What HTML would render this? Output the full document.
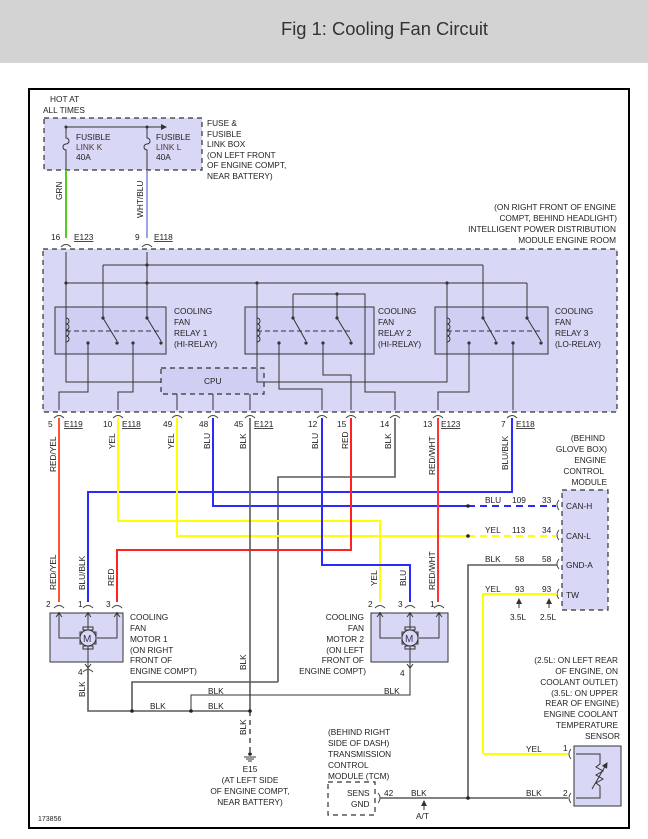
<!DOCTYPE html>
<html><head><meta charset="utf-8"><style>
html,body{margin:0;padding:0;background:#fff;}
svg{display:block;}
text{font-family:"Liberation Sans",Arial,sans-serif;font-size:8.3px;fill:#222;}
.t{font-size:18px;fill:#333;}
.w{fill:none;stroke-width:2;}
.g{stroke:#5a5a5a;fill:none;stroke-width:1.6;}
.k{stroke:#333;fill:none;stroke-width:1;}
.d{stroke:#333;stroke-width:1.2;stroke-dasharray:5,4;}
.c{stroke:#444;fill:none;stroke-width:1;}
</style></head><body>
<svg width="648" height="839" viewBox="0 0 648 839" xmlns="http://www.w3.org/2000/svg">
<defs>
<marker id="ar" markerWidth="6" markerHeight="6" refX="5" refY="3" orient="auto"><path d="M0,0 L6,3 L0,6 z" fill="#333"/></marker>
</defs>
<rect x="0" y="0" width="648" height="63" fill="#d3d3d3"/>
<text class="t" x="281" y="35" textLength="207" lengthAdjust="spacingAndGlyphs">Fig 1: Cooling Fan Circuit</text>
<rect x="29" y="89" width="600" height="739" fill="none" stroke="#000" stroke-width="2"/>

<!-- fuse box -->
<text x="50" y="102">HOT AT</text><text x="43" y="113">ALL TIMES</text>
<rect x="44" y="118" width="158" height="52" style="fill:#d8d8f6" class="d"/>
<line x1="66" y1="127" x2="166" y2="127" class="k" marker-end="url(#ar)"/>
<circle cx="66" cy="127" r="1.5" fill="#333"/><circle cx="147" cy="127" r="1.5" fill="#333"/>
<path d="M66,127 V138 a3,3 0 0 1 0,6 a3,3 0 0 0 0,6 V170" class="k"/>
<path d="M147,127 V138 a3,3 0 0 1 0,6 a3,3 0 0 0 0,6 V170" class="k"/>
<text x="76" y="140">FUSIBLE</text><text x="76" y="150" style="fill:#533">LINK K</text><text x="76" y="160">40A</text>
<text x="156" y="140">FUSIBLE</text><text x="156" y="150" style="fill:#533">LINK L</text><text x="156" y="160">40A</text>
<text x="207" y="126">FUSE &amp;</text><text x="207" y="137">FUSIBLE</text><text x="207" y="147">LINK BOX</text>
<text x="207" y="158">(ON LEFT FRONT</text><text x="207" y="168">OF ENGINE COMPT,</text><text x="207" y="179">NEAR BATTERY)</text>
<line x1="66" y1="170" x2="66" y2="238" stroke="#55cc22" stroke-width="2"/>
<line x1="147" y1="170" x2="147" y2="238" stroke="#8080e0" stroke-width="1.5"/>
<text transform="translate(62,200) rotate(-90)">GRN</text>
<text transform="translate(143,218) rotate(-90)">WHT/BLU</text>
<text x="51" y="240">16</text><text x="74" y="240" text-decoration="underline">E123</text>
<text x="135" y="240">9</text><text x="154" y="240" text-decoration="underline">E118</text>
<path d="M61,247 q5,-5 10,0 M142,247 q5,-5 10,0" class="c"/>

<!-- IPDM text -->
<g text-anchor="end"><text x="616" y="210">(ON RIGHT FRONT OF ENGINE</text><text x="617" y="221">COMPT, BEHIND HEADLIGHT)</text><text x="616" y="232">INTELLIGENT POWER DISTRIBUTION</text><text x="616" y="243">MODULE ENGINE ROOM</text></g>
<rect x="43" y="249" width="574" height="163" style="fill:#d8d8f6" class="d"/>
<!-- relays -->
<rect x="55" y="307" width="111" height="47" fill="#cfcff3" stroke="#333"/>
<rect x="245" y="307" width="129" height="47" fill="#cfcff3" stroke="#333"/>
<rect x="435" y="307" width="113" height="47" fill="#cfcff3" stroke="#333"/>
<rect x="161" y="368" width="103" height="26" style="fill:#cfcff3" class="d"/>
<text x="204" y="384">CPU</text>
<g class="k">
<path d="M103,265 H483 M66,283 H527"/>
<path d="M66,252 V382 H161 M147,252 V318 M103,265 V318 M483,265 V318 M527,283 V318"/>
<path d="M257,283 V382 H264 M447,283 V382 H264"/>
<path d="M293,294 H365 V392 H395 V410 M293,294 V318 M337,294 V318"/>
<path d="M88,343 V392 H59 V410 M133,343 V392 H118 V410"/>
<path d="M279,343 V389 H322 V410 M323,343 V375 H351 V410"/>
<path d="M469,343 V392 H438 V410 M513,343 V410"/>
<path d="M177,394 V410 M213,394 V410 M250,394 V410"/>
<path d="M103,318 L117,341 M147,318 L161,341 M293,318 L306,341 M337,318 L351,341 M483,318 L496,341 M527,318 L541,341"/>
<path d="M66,318 a3,3 0 0 1 0,6 a3,3 0 0 1 0,6 a3,3 0 0 1 0,6 a3,3 0 0 1 0,6"/>
<path d="M257,318 a3,3 0 0 1 0,6 a3,3 0 0 1 0,6 a3,3 0 0 1 0,6 a3,3 0 0 1 0,6"/>
<path d="M447,318 a3,3 0 0 1 0,6 a3,3 0 0 1 0,6 a3,3 0 0 1 0,6 a3,3 0 0 1 0,6"/>
</g>
<g stroke="#333" stroke-dasharray="5,3" stroke-width="1"><path d="M66,331 H161 M257,331 H351 M447,331 H541"/></g>
<g fill="#333">
<circle cx="66" cy="283" r="1.6"/><circle cx="147" cy="283" r="1.6"/><circle cx="147" cy="265" r="1.6"/><circle cx="257" cy="283" r="1.6"/><circle cx="447" cy="283" r="1.6"/><circle cx="337" cy="294" r="1.6"/>
<circle cx="103" cy="318" r="1.6"/><circle cx="147" cy="318" r="1.6"/><circle cx="293" cy="318" r="1.6"/><circle cx="337" cy="318" r="1.6"/><circle cx="483" cy="318" r="1.6"/><circle cx="527" cy="318" r="1.6"/>
<circle cx="88" cy="343" r="1.6"/><circle cx="133" cy="343" r="1.6"/><circle cx="117" cy="343" r="1.6"/><circle cx="161" cy="343" r="1.6"/>
<circle cx="279" cy="343" r="1.6"/><circle cx="323" cy="343" r="1.6"/><circle cx="306" cy="343" r="1.6"/><circle cx="351" cy="343" r="1.6"/>
<circle cx="469" cy="343" r="1.6"/><circle cx="513" cy="343" r="1.6"/><circle cx="496" cy="343" r="1.6"/><circle cx="541" cy="343" r="1.6"/>
</g>
<text x="174" y="314">COOLING</text><text x="174" y="325">FAN</text><text x="174" y="336">RELAY 1</text><text x="174" y="347">(HI-RELAY)</text>
<text x="378" y="314">COOLING</text><text x="378" y="325">FAN</text><text x="378" y="336">RELAY 2</text><text x="378" y="347">(HI-RELAY)</text>
<text x="555" y="314">COOLING</text><text x="555" y="325">FAN</text><text x="555" y="336">RELAY 3</text><text x="555" y="347">(LO-RELAY)</text>
<g class="c">
<path d="M54,418 q5,-5 10,0 M113,418 q5,-5 10,0 M172,418 q5,-5 10,0 M208,418 q5,-5 10,0 M245,418 q5,-5 10,0 M317,418 q5,-5 10,0 M346,418 q5,-5 10,0 M390,418 q5,-5 10,0 M433,418 q5,-5 10,0 M507,418 q5,-5 10,0"/>
</g>
<text x="48" y="427">5</text><text x="64" y="427" text-decoration="underline">E119</text>
<text x="103" y="427">10</text><text x="122" y="427" text-decoration="underline">E118</text>
<text x="163" y="427">49</text><text x="199" y="427">48</text><text x="234" y="427">45</text><text x="254" y="427" text-decoration="underline">E121</text>
<text x="308" y="427">12</text><text x="337" y="427">15</text><text x="380" y="427">14</text><text x="423" y="427">13</text><text x="441" y="427" text-decoration="underline">E123</text>
<text x="501" y="427">7</text><text x="516" y="427" text-decoration="underline">E118</text>

<path d="M278,682 V477 H395 V418" class="g"/>
<path d="M59,418 V602" class="w" stroke="#ff5533"/>
<path d="M512,418 V492 H88 V602" class="w" stroke="#2a2aff"/>
<path d="M213,418 V506 H468" class="w" stroke="#2a2aff"/>
<path d="M468,506 H556" class="w" stroke="#2a2aff" stroke-dasharray="7,5"/>
<path d="M118,418 V521 H380 V602" class="w" stroke="#ffff00"/>
<path d="M177,418 V536 H468" class="w" stroke="#ffff00"/>
<path d="M468,536 H556" class="w" stroke="#ffff00" stroke-dasharray="7,5"/>
<path d="M351,418 V550 H117 V602" class="w" stroke="#ff2222"/>
<path d="M322,418 V565 H410 V602" class="w" stroke="#2a2aff"/>
<path d="M438,418 V602" class="w" stroke="#ff3333"/>
<path d="M250,418 V711" class="g"/>
<circle cx="468" cy="506" r="1.8" fill="#222"/><circle cx="468" cy="536" r="1.8" fill="#222"/>
<g>
<text transform="translate(56,472) rotate(-90)">RED/YEL</text>
<text transform="translate(115,449) rotate(-90)">YEL</text>
<text transform="translate(174,449) rotate(-90)">YEL</text>
<text transform="translate(210,449) rotate(-90)">BLU</text>
<text transform="translate(246,449) rotate(-90)">BLK</text>
<text transform="translate(318,449) rotate(-90)">BLU</text>
<text transform="translate(348,449) rotate(-90)">RED</text>
<text transform="translate(391,449) rotate(-90)">BLK</text>
<text transform="translate(435,475) rotate(-90)">RED/WHT</text>
<text transform="translate(508,470) rotate(-90)">BLU/BLK</text>
<text transform="translate(56,590) rotate(-90)">RED/YEL</text>
<text transform="translate(85,590) rotate(-90)">BLU/BLK</text>
<text transform="translate(114,586) rotate(-90)">RED</text>
<text transform="translate(377,586) rotate(-90)">YEL</text>
<text transform="translate(406,586) rotate(-90)">BLU</text>
<text transform="translate(435,590) rotate(-90)">RED/WHT</text>
<text transform="translate(246,670) rotate(-90)">BLK</text>
<text transform="translate(85,697) rotate(-90)">BLK</text>
<text transform="translate(246,735) rotate(-90)">BLK</text>
</g>

<rect x="50" y="613" width="73" height="49" fill="#d8d8f6" stroke="#333"/>
<path d="M54,608 q5,-5 10,0 M83,608 q5,-5 10,0 M112,608 q5,-5 10,0" class="c"/>
<text x="46" y="607">2</text><text x="78" y="607">1</text><text x="106" y="607">3</text>
<g class="k"><path d="M59,612 V638 H79 M117,612 V638 H97 M88,612 V630 M88,646 V667" /></g>
<path d="M56,617 l3,-4 l3,4 M85,617 l3,-4 l3,4 M114,617 l3,-4 l3,4 M85,664 l3,4 l3,-4" class="k"/>
<rect x="80" y="632" width="3" height="12" fill="none" stroke="#333"/><rect x="93" y="632" width="3" height="12" fill="none" stroke="#333"/>
<rect x="83" y="627" width="10" height="3" fill="none" stroke="#333"/><rect x="83" y="646" width="10" height="3" fill="none" stroke="#333"/>
<circle cx="88" cy="638" r="8" fill="#d8d8f6" stroke="#333"/>
<text x="83" y="642" style="font-size:10px;fill:#335">M</text>
<path d="M83,672 q5,-5 10,0" class="c"/><text x="78" y="675">4</text>
<text x="130" y="620">COOLING</text><text x="130" y="631">FAN</text><text x="130" y="642">MOTOR 1</text><text x="130" y="653">(ON RIGHT</text><text x="130" y="663">FRONT OF</text><text x="130" y="674">ENGINE COMPT)</text>

<rect x="371" y="613" width="77" height="49" fill="#d8d8f6" stroke="#333"/>
<path d="M375,608 q5,-5 10,0 M405,608 q5,-5 10,0 M434,608 q5,-5 10,0" class="c"/>
<text x="368" y="607">2</text><text x="398" y="607">3</text><text x="430" y="607">1</text>
<g class="k"><path d="M380,612 V638 H401 M439,612 V638 H419 M410,612 V630 M410,646 V695 H191 V711"/></g>
<path d="M377,617 l3,-4 l3,4 M407,617 l3,-4 l3,4 M436,617 l3,-4 l3,4 M407,664 l3,4 l3,-4" class="k"/>
<rect x="402" y="632" width="3" height="12" fill="none" stroke="#333"/><rect x="415" y="632" width="3" height="12" fill="none" stroke="#333"/>
<rect x="405" y="627" width="10" height="3" fill="none" stroke="#333"/><rect x="405" y="646" width="10" height="3" fill="none" stroke="#333"/>
<circle cx="410" cy="638" r="8" fill="#d8d8f6" stroke="#333"/>
<text x="405" y="642" style="font-size:10px;fill:#335">M</text>
<text x="400" y="676">4</text>
<g text-anchor="end"><text x="364" y="620">COOLING</text><text x="364" y="631">FAN</text><text x="364" y="642">MOTOR 2</text><text x="364" y="653">(ON LEFT</text><text x="364" y="663">FRONT OF</text><text x="366" y="674">ENGINE COMPT)</text></g>

<path d="M88,667 V711 H250 M278,682 H132 V711" class="g"/>
<path d="M250,711 V752" stroke="#5a5a5a" stroke-width="1.6" stroke-dasharray="5,4"/>
<g fill="#222"><circle cx="132" cy="711" r="1.8"/><circle cx="191" cy="711" r="1.8"/><circle cx="250" cy="711" r="1.8"/><circle cx="250" cy="754" r="1.8"/></g>
<path d="M244,757 H256 M246,759 H254 M248,761 H252" class="k"/>
<text x="150" y="709">BLK</text><text x="208" y="709">BLK</text><text x="208" y="694">BLK</text><text x="384" y="694">BLK</text>
<g text-anchor="middle"><text x="250" y="772">E15</text><text x="250" y="783">(AT LEFT SIDE</text><text x="250" y="794">OF ENGINE COMPT,</text><text x="250" y="805">NEAR BATTERY)</text></g>
<text x="38" y="821" style="font-size:7px">173856</text>

<g text-anchor="end"><text x="605" y="441">(BEHIND</text><text x="607" y="452">GLOVE BOX)</text><text x="606" y="463">ENGINE</text><text x="604" y="474">CONTROL</text><text x="607" y="485">MODULE</text></g>
<rect x="562" y="490" width="46" height="120" style="fill:#d8d8f6" class="d"/>
<text x="566" y="509">CAN-H</text><text x="566" y="539">CAN-L</text><text x="566" y="568">GND-A</text><text x="566" y="598">TW</text>
<path d="M559,500 q-4,5 0,10 M559,530 q-4,5 0,10 M559,559 q-4,5 0,10 M559,589 q-4,5 0,10" class="c"/>
<text x="485" y="503">BLU</text><text x="512" y="503">109</text><text x="542" y="503">33</text>
<text x="485" y="533">YEL</text><text x="512" y="533">113</text><text x="542" y="533">34</text>
<text x="485" y="562">BLK</text><text x="515" y="562">58</text><text x="542" y="562">58</text>
<text x="485" y="592">YEL</text><text x="515" y="592">93</text><text x="542" y="592">93</text>
<path d="M468,798 V565 H557" class="g"/>
<path d="M483,754 V594 H557" class="w" stroke="#ffff00"/>
<line x1="519" y1="608" x2="519" y2="599" class="k" marker-end="url(#ar)"/>
<line x1="549" y1="608" x2="549" y2="599" class="k" marker-end="url(#ar)"/>
<text x="510" y="620">3.5L</text><text x="540" y="620">2.5L</text>

<g text-anchor="end"><text x="618" y="663">(2.5L: ON LEFT REAR</text><text x="618" y="674">OF ENGINE, ON</text><text x="618" y="685">COOLANT OUTLET)</text><text x="618" y="696">(3.5L: ON UPPER</text><text x="619" y="706">REAR OF ENGINE)</text><text x="618" y="717">ENGINE COOLANT</text><text x="618" y="728">TEMPERATURE</text><text x="620" y="739">SENSOR</text></g>
<rect x="574" y="746" width="47" height="60" fill="#d8d8f6" stroke="#333"/>
<path d="M483,754 H568" class="w" stroke="#ffff00"/>
<path d="M571,749 q-4,5 0,10 M571,793 q-4,5 0,10" class="c"/>
<path d="M576,754 H600 V764 l-4,3 l7,4 l-7,4 l7,4 l-7,4 l4,3 V798 H576" class="k"/>
<path d="M592,789 L607,763" class="k" marker-end="url(#ar)"/>
<text x="526" y="752">YEL</text><text x="563" y="751">1</text>
<text x="526" y="796">BLK</text><text x="563" y="796">2</text>

<text x="328" y="735">(BEHIND RIGHT</text><text x="328" y="746">SIDE OF DASH)</text><text x="328" y="757">TRANSMISSION</text><text x="328" y="768">CONTROL</text><text x="328" y="779">MODULE (TCM)</text>
<rect x="328" y="782" width="47" height="33" style="fill:none" class="d"/>
<text x="347" y="796">SENS</text><text x="351" y="807">GND</text>
<path d="M378,793 q4,5 0,10" class="c"/>
<path d="M380,798 H568" class="g"/>
<circle cx="468" cy="798" r="1.8" fill="#222"/>
<text x="384" y="796">42</text><text x="411" y="796">BLK</text>
<line x1="424" y1="810" x2="424" y2="801" class="k" marker-end="url(#ar)"/>
<text x="416" y="819">A/T</text>
</svg>
</body></html>
